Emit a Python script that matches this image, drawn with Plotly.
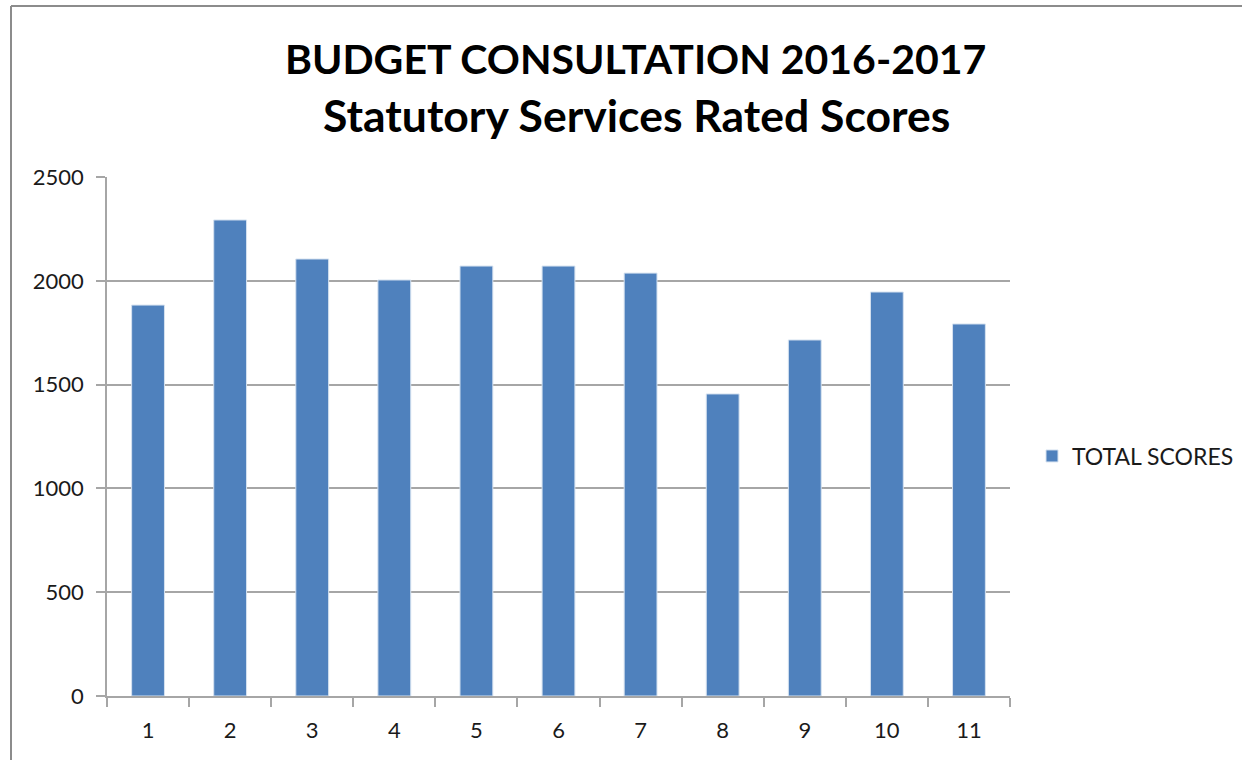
import plotly.graph_objects as go

categories = ["1", "2", "3", "4", "5", "6", "7", "8", "9", "10", "11"]
total_scores = [1883, 2293, 2105, 2004, 2071, 2071, 2037, 1455, 1715, 1946, 1792]
y_ticks = [0, 500, 1000, 1500, 2000, 2500]
title_line1 = "BUDGET CONSULTATION 2016-2017"
title_line2 = "Statutory Services Rated Scores"
series_name = "TOTAL SCORES"

W, H = 1242, 760
L, R, T, B = 107, 1010, 177, 696

def px_x(px):
    return (px - L) / (R - L)

def px_y(py):
    return (B - py) / (B - T)

FONT = "Lato, Open Sans, sans-serif"

fig = go.Figure()
fig.add_trace(go.Bar(
    x=categories, y=total_scores, name=series_name,
    marker=dict(color="#4F81BD", line=dict(color="#D6E2F0", width=1)),
))

fig.add_annotation(text="<b>" + title_line1 + "</b>", x=px_x(635), y=px_y(59), xref="paper", yref="paper",
                   showarrow=False, font=dict(family=FONT, size=41, color="#000000"),
                   xanchor="center", yanchor="middle")
fig.add_annotation(text="<b>" + title_line2 + "</b>", x=px_x(636), y=px_y(114), xref="paper", yref="paper",
                   showarrow=False, font=dict(family=FONT, size=44.5, color="#000000"),
                   xanchor="center", yanchor="middle")

# outer frame (top and left edges visible)
fig.add_shape(type="line", xref="paper", yref="paper", x0=px_x(11), x1=px_x(1250), y0=px_y(6), y1=px_y(6),
              line=dict(color="#8C8C8C", width=2))
fig.add_shape(type="line", xref="paper", yref="paper", x0=px_x(11), x1=px_x(11), y0=px_y(6), y1=px_y(770),
              line=dict(color="#8C8C8C", width=2))

fig.update_layout(
    width=W, height=H,
    margin=dict(l=L, r=W - R, t=T, b=H - B, autoexpand=False),
    paper_bgcolor="white", plot_bgcolor="white",
    bargap=0.6,
    showlegend=True,
    legend=dict(x=px_x(1032), y=px_y(456), xanchor="left", yanchor="middle",
                font=dict(family=FONT, size=23, color="#1a1a1a"),
                itemwidth=30, bgcolor="rgba(0,0,0,0)"),
    font=dict(family=FONT, color="#1a1a1a"),
)
fig.update_xaxes(
    type="category", showline=True, linecolor="#A6A6A6", linewidth=1.5,
    ticks="outside", tickson="boundaries", ticklen=9, tickcolor="#A6A6A6", tickwidth=1.5,
    tickfont=dict(family=FONT, size=22, color="#1a1a1a"),
    showgrid=False, ticklabelstandoff=14,
)
fig.update_yaxes(
    range=[0, 2500], tickvals=y_ticks, showline=True, linecolor="#A6A6A6", linewidth=1.5,
    ticks="outside", ticklen=9, tickcolor="#A6A6A6", tickwidth=1.5,
    showgrid=True, gridcolor="#A6A6A6", gridwidth=1.5, zeroline=False,
    tickfont=dict(family=FONT, size=22, color="#1a1a1a"),
    ticklabelstandoff=8,
)

fig.write_html("out.html", config={"displayModeBar": False},
               post_script="document.body.style.margin='0';document.body.style.overflow='hidden';")
